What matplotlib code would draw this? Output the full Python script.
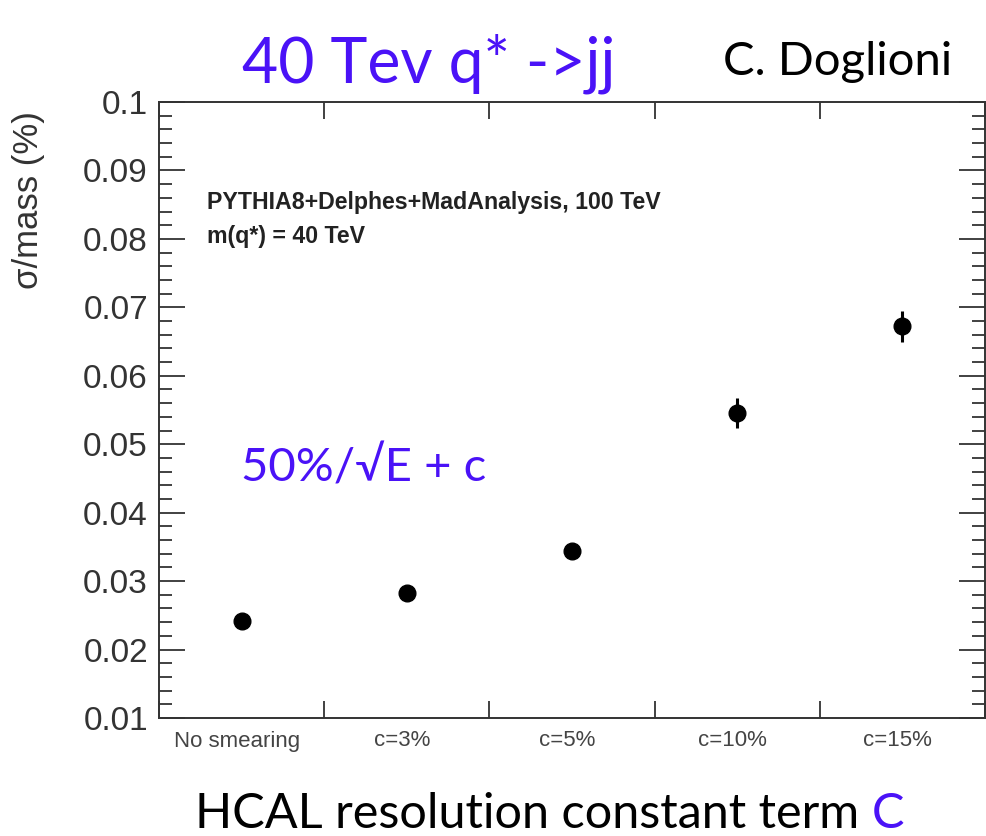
import numpy as np
import matplotlib
matplotlib.use('Agg')
import matplotlib.pyplot as plt
from matplotlib.ticker import FixedLocator, MultipleLocator, NullFormatter

# data
categories = ['No smearing', 'c=3%', 'c=5%', 'c=10%', 'c=15%']
sigma_over_mass = [0.0241, 0.0282, 0.0344, 0.0545, 0.0672]
sigma_err = [0.0008, 0.0009, 0.0010, 0.0022, 0.0023]
y_ticks = [0.01, 0.02, 0.03, 0.04, 0.05, 0.06, 0.07, 0.08, 0.09, 0.1]
y_tick_labels = ['0.01', '0.02', '0.03', '0.04', '0.05', '0.06', '0.07', '0.08', '0.09', '0.1']

blue = '#4a12f7'
axis_grey = '#333333'
W, H = 987, 836

fig = plt.figure(figsize=(W / 100, H / 100), dpi=100)
ax = fig.add_axes([159 / W, 1 - 718 / H, (985 - 159) / W, (718 - 102) / H])

x = np.arange(len(categories)) + 0.5
ax.errorbar(x, sigma_over_mass, yerr=sigma_err, fmt='o', color='black',
            ms=12, elinewidth=2.2, capsize=0)

ax.set_xlim(0, len(categories))
ax.set_ylim(0.01, 0.1)

# ROOT-like frame and ticks
for sp in ax.spines.values():
    sp.set_color(axis_grey)
    sp.set_linewidth(1.4)

ax.xaxis.set_major_locator(FixedLocator(np.arange(len(categories) + 1)))
ax.xaxis.set_major_formatter(NullFormatter())
ax.xaxis.set_minor_locator(FixedLocator(x - 0.03))
ax.set_xticklabels(categories, minor=True)
ax.tick_params(axis='x', which='major', direction='in', top=True, bottom=True,
               length=12, width=1.3, color=axis_grey)
ax.tick_params(axis='x', which='minor', length=0, pad=9, labelsize=16,
               labelcolor='#444444')
for lab in ax.get_xticklabels(minor=True):
    lab.set_fontfamily('Liberation Sans')

ax.set_yticks(y_ticks)
ax.set_yticklabels(y_tick_labels)
ax.yaxis.set_minor_locator(MultipleLocator(0.002))
ax.tick_params(axis='y', which='major', direction='in', left=True, right=True,
               length=19, width=1.3, color=axis_grey, labelsize=24,
               labelcolor='#333333', pad=8)
ax.tick_params(axis='y', which='minor', direction='in', left=True, right=True,
               length=9.5, width=1.3, color=axis_grey)
for lab in ax.get_yticklabels():
    lab.set_fontfamily('Liberation Sans')

ax.set_ylabel('σ/mass (%)', fontsize=25, color='#333333',
              family=['Liberation Sans', 'DejaVu Sans'])
ax.yaxis.set_label_coords(-0.138, 0.84)

# text inside the frame
ax.text((207 - 159) / (985 - 159), 1 - (209 - 102) / (718 - 102),
        'PYTHIA8+Delphes+MadAnalysis, 100 TeV', transform=ax.transAxes,
        fontsize=16.7, fontweight='bold', color='#222222', va='baseline',
        family='Liberation Sans')
ax.text((207 - 159) / (985 - 159), 1 - (243 - 102) / (718 - 102),
        'm(q*) = 40 TeV', transform=ax.transAxes,
        fontsize=16.7, fontweight='bold', color='#222222', va='baseline',
        family='Liberation Sans')

# slide annotations
slide_font = ['Lato', 'DejaVu Sans']
fig.text(242 / W, 1 - 82 / H, '40 Tev q* ->jj', color=blue, fontsize=45,
         family=slide_font, va='baseline')
fig.text(723 / W, 1 - 75 / H, 'C. Doglioni', color='black', fontsize=34,
         family=slide_font, va='baseline')
fig.text(241 / W, 1 - 482 / H, '50%/√E + c', color=blue, fontsize=34,
         family=slide_font, va='baseline')
t = fig.text(195 / W, 1 - 828 / H, 'HCAL resolution constant term ', color='black',
             fontsize=35, family=slide_font, va='baseline')
fig.canvas.draw()
bb = t.get_window_extent()
fig.text(bb.x1 / W, 1 - 828 / H, 'C', color=blue, fontsize=35,
         family=slide_font, va='baseline')

fig.savefig('out.png', dpi=100)
